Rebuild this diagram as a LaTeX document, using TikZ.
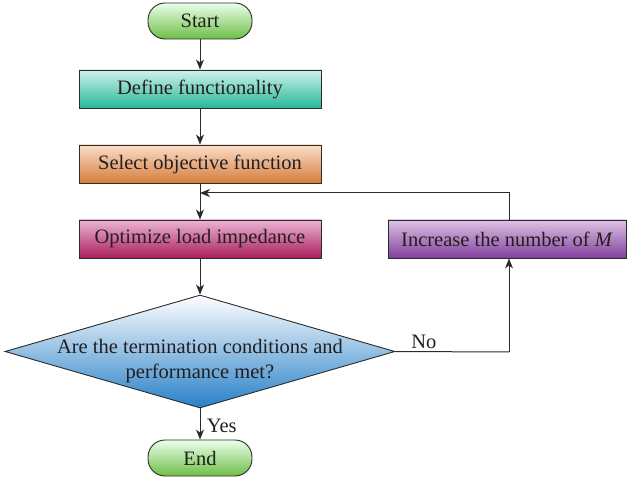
\documentclass[tikz,border=0pt]{standalone}
\usepackage{fontspec}
\setmainfont{Liberation Serif}
\usetikzlibrary{arrows.meta,shapes.geometric}
\definecolor{txt}{HTML}{231F20}
\definecolor{ln}{HTML}{2B2B2B}
\begin{document}
\begin{tikzpicture}[x=1pt,y=-1pt,
  font=\fontsize{20.5}{25}\selectfont, text=txt,
  box/.style={draw=ln, line width=0.9pt, minimum height=38pt, inner sep=0pt},
  pill/.style={box, rounded corners=17pt, minimum width=104pt, minimum height=36pt,
     top color=green!8!white, bottom color={rgb,255:red,110;green,190;blue,70}},
  flow/.style={draw=ln, line width=1pt, -{Stealth[length=10pt,width=8pt,inset=3pt]}},
  plain/.style={draw=ln, line width=1pt}]
\useasboundingbox (0,0) rectangle (627,481);
\node[pill] (start) at (200,21) {Start};
\node[box, minimum width=242pt, top color={rgb,255:red,205;green,242;blue,232}, bottom color={rgb,255:red,40;green,182;blue,155}] (define) at (200,89) {Define functionality};
\node[box, minimum width=242pt, top color={rgb,255:red,250;green,222;blue,200}, bottom color={rgb,255:red,214;green,124;blue,60}] (select) at (200,164) {Select objective function};
\node[box, minimum width=242pt, top color={rgb,255:red,236;green,180;blue,212}, bottom color={rgb,255:red,168;green,30;blue,92}] (opt) at (200,239) {Optimize load impedance};
\node[box, minimum width=238pt, top color={rgb,255:red,222;green,196;blue,228}, bottom color={rgb,255:red,128;green,62;blue,156}] (inc) at (507,239) {Increase the number of \textit{M}};
\node[diamond, draw=ln, line width=0.9pt, minimum width=390pt, minimum height=113pt, inner sep=0pt,
   top color=white, bottom color={rgb,255:red,40;green,128;blue,200}] (dec) at (200,351.5) {};
\node[align=center, inner sep=0pt] (dectxt) at (200,361) {Are the termination conditions and\\performance met?};
\node[pill] (end) at (200,458) {End};
\coordinate (j) at (200,193);
\coordinate (c1) at (509,352);
\draw[flow] (start) -- (define);
\draw[flow] (define) -- (select);
\draw[flow] (select) -- (opt);
\draw[flow] (opt) -- (dec.north);
\draw[flow] (dec.south) -- node[right, xshift=3pt, yshift=-2pt] (yes) {Yes} (end);
\draw[plain] (dec.east) -- node[above, pos=0.25, yshift=-1pt] (no) {No} (c1);
\draw[flow] (c1) -- (c1 |- inc.south);
\draw[flow] (inc.north -| c1) |- (j);
\end{tikzpicture}
\end{document}
